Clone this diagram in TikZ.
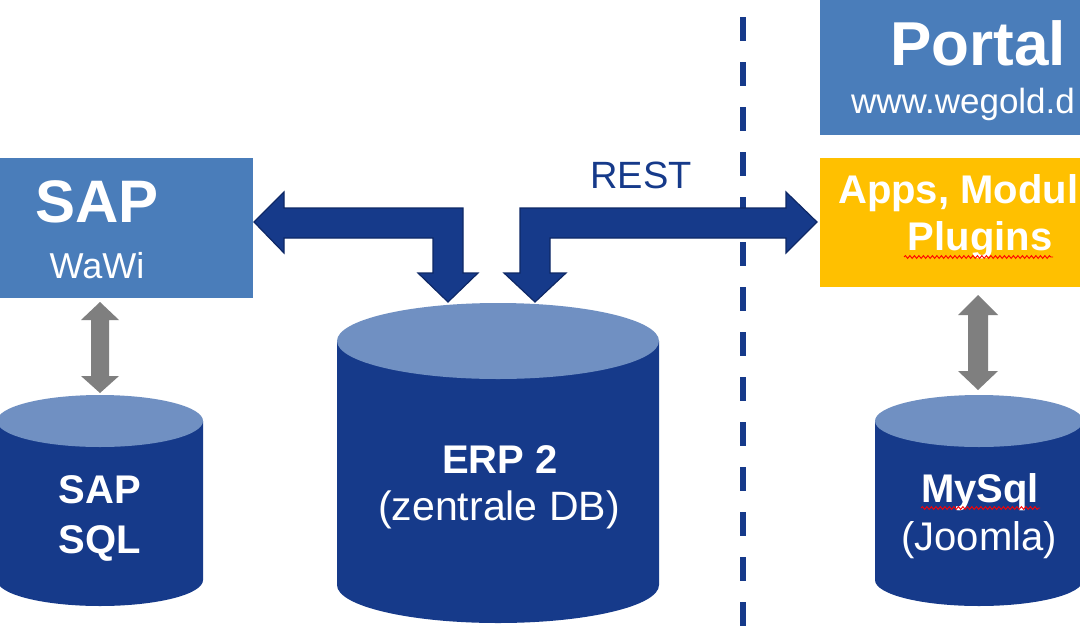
\documentclass[tikz,border=0pt]{standalone}
\usepackage{fontspec}
\setmainfont{Liberation Sans}
\usetikzlibrary{decorations.pathmorphing}
\definecolor{navy}{HTML}{163A8A}
\definecolor{navyline}{HTML}{0E2866}
\definecolor{toplight}{HTML}{7090C2}
\definecolor{boxblue}{HTML}{4A7DBA}
\definecolor{boxyellow}{HTML}{FFC000}
\definecolor{arrowgray}{HTML}{7F7F7F}
\newcommand\dbcyl[5]{% cx, rx, ytop, ybot, ry
  \fill[navy] (#1-#2,#3) -- (#1-#2,#4) arc[start angle=180,end angle=0,x radius=#2,y radius=#5] -- (#1+#2,#3) -- cycle;
  \fill[toplight] (#1,#3) ellipse[x radius=#2,y radius=#5];
}
\tikzset{
  box/.style={draw=none,inner sep=0,anchor=north west},
  txt/.style={text=white,inner sep=0,anchor=base},
  blockarrow/.style={fill=navy,draw=navyline,line width=1.2pt,line join=miter},
  grayarrow/.style={fill=arrowgray,draw=none},
  squiggle/.style={red,line width=0.9pt,decorate,decoration={snake,amplitude=1.4pt,segment length=4.5pt}},
  sepline/.style={navy,line width=6.5pt,dash pattern=on 24pt off 21pt}
}
\begin{document}
\begin{tikzpicture}[x=1pt,y=-1pt]
\useasboundingbox (0,0) rectangle (1080,638);
\fill[white] (0,0) rectangle (1080,638);

% separator
\coordinate (septop) at (743,17);
\coordinate (sepbot) at (743,627);
\draw[sepline] (septop) -- (sepbot);

% boxes
\node[box,fill=boxblue,minimum width=253pt,minimum height=140pt] (sap) at (0,158) {};
\node[box,fill=boxblue,minimum width=260pt,minimum height=135pt] (portal) at (820,0) {};
\node[box,fill=boxyellow,minimum width=260pt,minimum height=129pt] (apps) at (820,158) {};

% cylinders
\dbcyl{100}{103}{421}{580}{26}
\dbcyl{498}{161}{341}{585}{38}
\dbcyl{979}{104}{421}{580}{26}

% gray double arrows
\fill[grayarrow] (100,302) -- (119,320) -- (109,320) -- (109,376) -- (119,376) -- (100,393)
  -- (81,376) -- (91,376) -- (91,320) -- (81,320) -- cycle;
\fill[grayarrow] (978,295) -- (998,315) -- (988,315) -- (988,371) -- (998,371) -- (978,390)
  -- (958,371) -- (968,371) -- (968,315) -- (958,315) -- cycle;

% block arrows
\draw[blockarrow] (254,222) -- (284,192) -- (284,208) -- (463,208) -- (463,273) -- (478,273)
  -- (448,302) -- (418,273) -- (433,273) -- (433,238) -- (284,238) -- (284,253) -- cycle;
\draw[blockarrow] (817,222) -- (786,253) -- (786,238) -- (550,238) -- (550,273) -- (566,273)
  -- (535,302) -- (504,273) -- (520,273) -- (520,208) -- (786,208) -- (786,192) -- cycle;

% texts
\node[txt] (sapt) at (97,222) {\fontsize{60}{64}\selectfont\bfseries SAP};
\node[txt] (wawi) at (97,278) {\fontsize{36}{40}\selectfont WaWi};
\node[txt] (portalt) at (978,65) {\fontsize{62}{66}\selectfont\bfseries Portal};
\node[txt,anchor=base west] (www) at (851,113) {\fontsize{35}{40}\selectfont www.wegold.d};
\node[txt,anchor=base west] (appst) at (838,203) {\fontsize{40}{44}\selectfont\bfseries Apps, Modul};
\node[txt] (plugins) at (980,250) {\fontsize{40}{44}\selectfont\bfseries Plugins};
\node[txt,text=navy] (rest) at (641,188) {\fontsize{38}{42}\selectfont REST};
\node[txt] (sapsql1) at (100,503) {\fontsize{40}{44}\selectfont\bfseries SAP};
\node[txt] (sapsql2) at (100,553) {\fontsize{40}{44}\selectfont\bfseries SQL};
\node[txt] (erp1) at (500,473) {\fontsize{40}{44}\selectfont\bfseries ERP 2};
\node[txt] (erp2) at (499,520) {\fontsize{41}{45}\selectfont (zentrale DB)};
\node[txt] (mysql1) at (980,502) {\fontsize{40}{44}\selectfont\bfseries MySql};
\node[txt] (mysql2) at (979,550) {\fontsize{40}{44}\selectfont (Joomla)};

% spell-check squiggles
\draw[squiggle] (921,508) -- (1040,508);
\draw[squiggle] (904,257) -- (1053,257);
\end{tikzpicture}
\end{document}
